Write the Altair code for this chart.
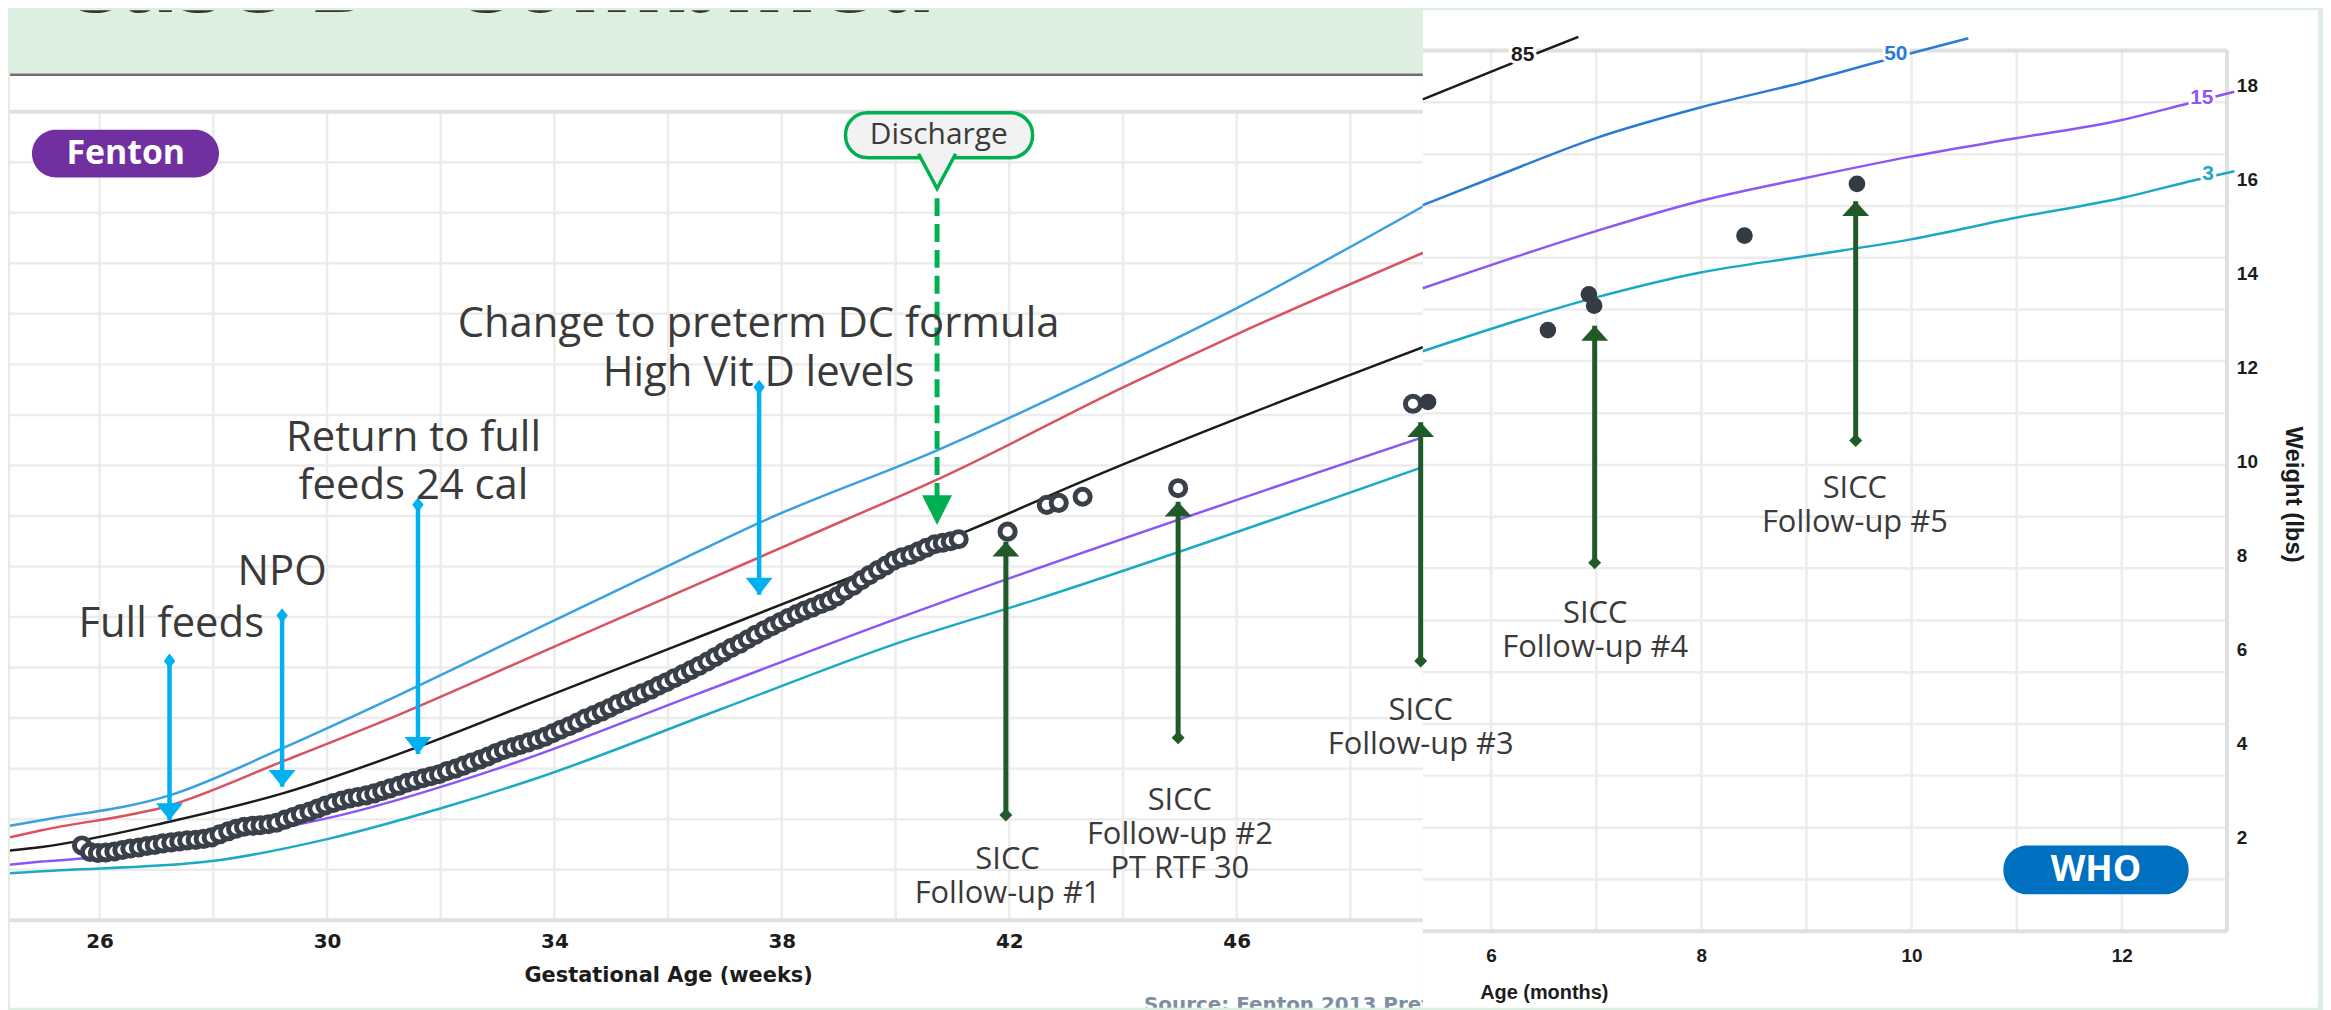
import altair as alt
import pandas as pd

# ---------------------------------------------------------------------------
# LEFT PANEL - Fenton preterm chart: x = gestational age (weeks),
# y = weight in chart grid units (one unit per horizontal grid line)
# ---------------------------------------------------------------------------
F97_AGE = [24.42, 24.98, 27.23, 29.19, 31.29, 33.97, 36.02, 37.71, 40.73, 44.01, 46.01, 49.28]
F97_WT = [1.87, 1.98, 2.47, 3.39, 4.47, 5.92, 7.02, 7.92, 9.30, 11.01, 12.12, 14.13]
F90_AGE = [24.42, 24.98, 27.23, 29.19, 31.29, 33.97, 36.54, 39.11, 40.73, 44.01, 46.01, 49.28]
F90_WT = [1.64, 1.78, 2.27, 3.13, 4.08, 5.40, 6.66, 7.92, 8.72, 10.55, 11.60, 13.21]
F50_AGE = [24.42, 24.98, 27.23, 29.19, 31.58, 33.74, 36.19, 38.88, 41.30, 43.34, 49.28]
F50_WT = [1.38, 1.45, 1.95, 2.50, 3.42, 4.37, 5.45, 6.64, 7.72, 8.71, 11.34]
F10_AGE = [24.42, 24.98, 25.69, 27.96, 30.24, 33.16, 36.54, 40.05, 40.96, 49.28]
F10_WT = [1.10, 1.16, 1.22, 1.58, 2.08, 3.06, 4.49, 5.98, 6.35, 9.56]
F3_AGE = [24.42, 24.98, 27.90, 30.06, 31.99, 33.74, 36.89, 40.05, 42.48, 49.28]
F3_WT = [0.93, 0.97, 1.16, 1.62, 2.21, 2.83, 4.16, 5.49, 6.35, 8.97]

INF_AGE = [25.69, 25.83, 25.97, 26.11, 26.26, 26.40, 26.54, 26.69, 26.83, 26.97,
           27.11, 27.26, 27.40, 27.54, 27.69, 27.83, 27.97, 28.11, 28.26, 28.40,
           28.54, 28.69, 28.83, 28.97, 29.11, 29.26, 29.40, 29.54, 29.69, 29.83,
           29.97, 30.11, 30.26, 30.40, 30.54, 30.69, 30.83, 30.97, 31.11, 31.26,
           31.40, 31.54, 31.69, 31.83, 31.97, 32.11, 32.26, 32.40, 32.54, 32.69,
           32.83, 32.97, 33.11, 33.26, 33.40, 33.54, 33.69, 33.83, 33.97, 34.11,
           34.26, 34.40, 34.54, 34.69, 34.83, 34.97, 35.11, 35.26, 35.40, 35.54,
           35.69, 35.83, 35.97, 36.11, 36.26, 36.40, 36.54, 36.69, 36.83, 36.97,
           37.11, 37.26, 37.40, 37.54, 37.69, 37.83, 37.97, 38.11, 38.26, 38.40,
           38.54, 38.69, 38.83, 38.97, 39.11, 39.26, 39.40, 39.54, 39.69, 39.83,
           39.97, 40.11, 40.26, 40.40, 40.54, 40.69, 40.83, 40.97, 41.11,
           41.97, 42.66, 42.87, 43.29, 44.97, 49.10]
INF_WT = [1.48, 1.35, 1.33, 1.34, 1.36, 1.39, 1.42, 1.44, 1.47, 1.49,
          1.52, 1.54, 1.56, 1.58, 1.59, 1.61, 1.64, 1.70, 1.76, 1.81,
          1.85, 1.87, 1.88, 1.90, 1.93, 1.99, 2.04, 2.10, 2.15, 2.21,
          2.27, 2.32, 2.37, 2.41, 2.44, 2.47, 2.51, 2.56, 2.61, 2.66,
          2.72, 2.76, 2.81, 2.85, 2.89, 2.95, 3.00, 3.06, 3.12, 3.18,
          3.24, 3.31, 3.37, 3.42, 3.47, 3.52, 3.57, 3.63, 3.70, 3.77,
          3.84, 3.91, 3.99, 4.06, 4.13, 4.20, 4.28, 4.35, 4.42, 4.49,
          4.56, 4.64, 4.71, 4.79, 4.87, 4.95, 5.03, 5.12, 5.21, 5.30,
          5.39, 5.47, 5.56, 5.65, 5.74, 5.82, 5.90, 5.98, 6.06, 6.13,
          6.19, 6.26, 6.32, 6.41, 6.52, 6.62, 6.73, 6.83, 6.93, 7.02,
          7.12, 7.18, 7.23, 7.30, 7.37, 7.44, 7.47, 7.50, 7.54,
          7.69, 8.22, 8.26, 8.38, 8.55, 10.22]

BLUE_AGE = [27.23, 29.21, 31.60, 37.60]
BLUE_TOP = [5.13, 6.03, 8.22, 10.55]
BLUE_TIP = [1.98, 2.64, 3.29, 6.44]
BLUE_TEXT = ["Full feeds", "NPO", "Return to full\nfeeds 24 cal",
             "Change to preterm DC formula\nHigh Vit D levels"]
BLUE_TEXT_AGE = [27.26, 29.21, 31.52, 37.59]
BLUE_TEXT_WT = [5.87, 6.90, 9.55, 11.80]

GL_AGE = [41.94, 44.97]
GL_TIP = [7.49, 8.28]
GL_BASE = [2.08, 3.61]
GL_TEXT = ["SICC\nFollow-up #1", "SICC\nFollow-up #2\nPT RTF 30"]
GL_TEXT_AGE = [41.97, 45.00]
GL_TEXT_WT = [1.19, 2.36]

DIS_AGE = [40.73]
DIS_LINE_TOP = [14.29]
DIS_LINE_BOT = [8.37]
DIS_TIP = [7.82]
DIS_POINTER = [14.48]
DIS_BOX_AGE = [39.12, 42.41]
DIS_BOX_WT = [15.09, 15.98]
DIS_TEXT_AGE = [40.76]
DIS_TEXT_WT = [15.54]

L_VGRID = [26, 28, 30, 32, 34, 36, 38, 40, 42, 44, 46, 48]
L_HGRID = [0, 1, 2, 3, 4, 5, 6, 7, 8, 9, 10, 11, 12, 13, 14, 15, 16]
L_TICKS = [26, 30, 34, 38, 42, 46]

# ---------------------------------------------------------------------------
# RIGHT PANEL - WHO chart: x = age (months), y = weight (lbs)
# ---------------------------------------------------------------------------
W85_AGE = [5.35, 6.19, 6.83]
W85_WT = [17.70, 18.46, 19.03]
W50_AGE = [5.35, 6.00, 6.99, 7.98, 8.98, 9.74, 10.54]
W50_WT = [15.45, 16.02, 16.87, 17.52, 18.07, 18.53, 19.00]
W15_AGE = [5.35, 6.99, 7.98, 8.98, 9.99, 10.99, 12.00, 12.61, 13.07]
W15_WT = [13.68, 14.89, 15.53, 16.02, 16.48, 16.87, 17.26, 17.60, 17.86]
W3_AGE = [5.35, 6.99, 7.98, 8.98, 9.99, 10.99, 12.00, 12.71, 13.07]
W3_WT = [12.34, 13.48, 14.01, 14.36, 14.72, 15.18, 15.60, 15.99, 16.17]
PCT_LABEL = ["85", "50", "15", "3"]
PCT_LABEL_AGE = [6.30, 9.85, 12.76, 12.82]
PCT_LABEL_WT = [18.64, 18.67, 17.72, 16.10]

WHO_AGE = [5.40, 6.54, 6.93, 6.98, 8.41, 9.48]
WHO_WT = [11.26, 12.79, 13.55, 13.31, 14.80, 15.90]

GR_AGE = [5.33, 6.985, 9.468]
GR_TIP = [10.83, 12.88, 15.53]
GR_BASE = [5.75, 7.84, 10.44]
GR_TEXT = ["SICC\nFollow-up #3", "SICC\nFollow-up #4", "SICC\nFollow-up #5"]
GR_TEXT_AGE = [5.33, 6.99, 9.46]
GR_TEXT_WT = [4.69, 6.75, 9.41]

R_VGRID = [6, 7, 8, 9, 10, 11, 12, 13]
R_HGRID = [0, 1.10, 2.20, 3.31, 4.41, 5.51, 6.61, 7.72, 8.82, 9.92, 11.02,
           12.13, 13.23, 14.33, 15.43, 16.53, 17.64, 18.74]
R_XTICKS = [6, 8, 10, 12]
R_YTICKS = [2, 4, 6, 8, 10, 12, 14, 16, 18]

# ---------------------------------------------------------------------------
GREEN_BG = "#dcefe0"
GRID = "#ececec"
BORDER = "#e0e0e0"
ANN = "#3a3a3a"
BLUE_ARROW = "#00b0f0"
DARK_GREEN = "#1f5a28"
DIS_GREEN = "#00b050"
DOT = "#3a404a"

L_AMIN, L_AMAX = 24.424, 49.275
L_WMIN, L_WMAX = -1.734, 18.010
R_AMIN, R_AMAX = 5.351, 13.866
R_WMIN, R_WMAX = -1.631, 19.597

LXS = alt.Scale(domain=[L_AMIN, L_AMAX], nice=False, zero=False)
LYS = alt.Scale(domain=[L_WMIN, L_WMAX], nice=False, zero=False)
RXS = alt.Scale(domain=[R_AMIN, R_AMAX], nice=False, zero=False)
RYS = alt.Scale(domain=[R_WMIN, R_WMAX], nice=False, zero=False)

L_XAXIS = alt.Axis(values=L_TICKS, offset=-88, grid=False, ticks=False, tickSize=0,
                   domain=False, labelFont="DejaVu Sans", labelFontWeight="bold",
                   labelFontSize=20, labelColor="#1c1c1c", labelPadding=21,
                   labelBaseline="middle", labelFlush=False, labelOverlap=False,
                   title="Gestational Age (weeks)", titleFont="DejaVu Sans",
                   titleFontWeight="bold", titleFontSize=21, titleColor="#1c1c1c",
                   titleX=661, titleY=56, titleAlign="center", titleBaseline="middle")
R_XAXIS = alt.Axis(values=R_XTICKS, offset=-77, grid=False, ticks=False, tickSize=0,
                   domain=False, labelFont="Liberation Sans", labelFontWeight="bold",
                   labelFontSize=19, labelColor="#1c1c1c", labelPadding=24,
                   labelBaseline="middle", labelFlush=False, labelOverlap=False,
                   title="Age (months)", titleFont="Liberation Sans",
                   titleFontWeight="bold", titleFontSize=20, titleColor="#1c1c1c",
                   titleX=57, titleY=62, titleAlign="left", titleBaseline="middle")
R_YAXIS = alt.Axis(orient="right", values=R_YTICKS, offset=-82, grid=False, ticks=False,
                   tickSize=0, domain=False, labelFont="Liberation Sans",
                   labelFontWeight="bold", labelFontSize=19, labelColor="#1c1c1c",
                   labelPadding=0, labelAlign="left", labelBaseline="middle",
                   labelFlush=False, labelOverlap=False,
                   title="Weight (lbs)", titleFont="Liberation Sans", titleFontWeight="bold",
                   titleFontSize=24, titleColor="#1c1c1c", titleAngle=90, titleX=56,
                   titleY=486, titleAlign="center", titleBaseline="middle")


def lx(f):
    return alt.X(f, type="quantitative", scale=LXS, axis=L_XAXIS)


def ly(f):
    return alt.Y(f, type="quantitative", scale=LYS, axis=None)


def rx(f):
    return alt.X(f, type="quantitative", scale=RXS, axis=R_XAXIS)


def ry(f):
    return alt.Y(f, type="quantitative", scale=RYS, axis=R_YAXIS)


def frame(**cols):
    return pd.DataFrame(cols)


HEAD_DOWN = "M-1,-1.26L1,-1.26L0,0Z"
HEAD_UP = "M-1,1.1L1,1.1L0,0Z"
DIAMOND_TALL = "M0,-1.3L1,0L0,1.3L-1,0Z"
DIAMOND = "M0,-1L1,0L0,1L-1,0Z"

# ============================ LEFT CHART ===================================
L = []
L.append(alt.Chart(frame(a0=[L_AMIN], a1=[L_AMAX], w0=[16.749], w1=[L_WMAX]))
         .mark_rect(color=GREEN_BG).encode(x=lx("a0"), x2="a1", y=ly("w0"), y2="w1"))
L.append(alt.Chart(frame(a0=[L_AMIN], a1=[L_AMAX], w=[16.73]))
         .mark_rule(color="#707070", strokeWidth=2.5).encode(x=lx("a0"), x2="a1", y=ly("w")))
L.append(alt.Chart(frame(w=L_HGRID, a0=[L_AMIN] * len(L_HGRID), a1=[L_AMAX] * len(L_HGRID)))
         .mark_rule(color=GRID, strokeWidth=2.5).encode(x=lx("a0"), x2="a1", y=ly("w")))
L.append(alt.Chart(frame(a=L_VGRID, w0=[0] * len(L_VGRID), w1=[16] * len(L_VGRID)))
         .mark_rule(color=GRID, strokeWidth=2.5).encode(x=lx("a"), y=ly("w0"), y2="w1"))
L.append(alt.Chart(frame(w=[0, 16], a0=[L_AMIN] * 2, a1=[L_AMAX] * 2))
         .mark_rule(color=BORDER, strokeWidth=4).encode(x=lx("a0"), x2="a1", y=ly("w")))

FENTON_PCTS = ["97", "90", "50", "10", "3"]
FENTON_COLORS = ["#3ba0e0", "#d9535f", "#1b1b1b", "#8b55f7", "#1aabc3"]
for name, ages, wts, col in zip(FENTON_PCTS,
                                [F97_AGE, F90_AGE, F50_AGE, F10_AGE, F3_AGE],
                                [F97_WT, F90_WT, F50_WT, F10_WT, F3_WT], FENTON_COLORS):
    L.append(alt.Chart(frame(age=ages, wt=wts))
             .mark_line(strokeWidth=2.5, interpolate="monotone", clip=True, color=col)
             .encode(x=lx("age"), y=ly("wt")))
L.append(alt.Chart(frame(age=INF_AGE, wt=INF_WT))
         .mark_point(shape="circle", size=230, filled=False, fill="white", fillOpacity=1,
                     stroke=DOT, strokeWidth=5, opacity=1)
         .encode(x=lx("age"), y=ly("wt")))

# blue arrows
bdf = frame(a=BLUE_AGE, top=BLUE_TOP, tip=BLUE_TIP)
L.append(alt.Chart(bdf).mark_rule(color=BLUE_ARROW, strokeWidth=4.5)
         .encode(x=lx("a"), y=ly("top"), y2="tip"))
L.append(alt.Chart(bdf).mark_point(shape=HEAD_DOWN, size=729, filled=True, color=BLUE_ARROW,
                                   opacity=1).encode(x=lx("a"), y=ly("tip")))
L.append(alt.Chart(bdf).mark_point(shape=DIAMOND_TALL, size=130, filled=True, color=BLUE_ARROW,
                                   opacity=1).encode(x=lx("a"), y=ly("top")))
# dark green arrows
gdf = frame(a=GL_AGE, tip=GL_TIP, base=GL_BASE)
L.append(alt.Chart(gdf).mark_rule(color=DARK_GREEN, strokeWidth=5)
         .encode(x=lx("a"), y=ly("base"), y2="tip"))
L.append(alt.Chart(gdf).mark_point(shape=HEAD_UP, size=729, filled=True, color=DARK_GREEN,
                                   opacity=1).encode(x=lx("a"), y=ly("tip")))
L.append(alt.Chart(gdf).mark_point(shape=DIAMOND, size=170, filled=True, color=DARK_GREEN,
                                   opacity=1).encode(x=lx("a"), y=ly("base")))
# discharge callout
L.append(alt.Chart(frame(a=DIS_AGE, w0=DIS_LINE_TOP, w1=DIS_LINE_BOT))
         .mark_rule(color=DIS_GREEN, strokeWidth=5, strokeDash=[18, 8])
         .encode(x=lx("a"), y=ly("w0"), y2="w1"))
L.append(alt.Chart(frame(a=DIS_AGE, w=DIS_TIP))
         .mark_point(shape="M-1,-2L1,-2L0,0Z", size=900, filled=True, color=DIS_GREEN, opacity=1)
         .encode(x=lx("a"), y=ly("w")))
L.append(alt.Chart(frame(a0=[DIS_BOX_AGE[0]], a1=[DIS_BOX_AGE[1]], w0=[DIS_BOX_WT[0]],
                         w1=[DIS_BOX_WT[1]]))
         .mark_rect(fill="#f2f2f2", stroke=DIS_GREEN, strokeWidth=3.5, cornerRadius=22)
         .encode(x=lx("a0"), x2="a1", y=ly("w0"), y2="w1"))
L.append(alt.Chart(frame(a=DIS_AGE, w=DIS_POINTER))
         .mark_point(shape="M-1.13,-2.12L0,0L1.13,-2.12", size=1089, filled=False,
                     fill="#f2f2f2", fillOpacity=1, stroke=DIS_GREEN, strokeWidth=3.5,
                     opacity=1)
         .encode(x=lx("a"), y=ly("w")))
L.append(alt.Chart(frame(a=DIS_TEXT_AGE, w=DIS_TEXT_WT, t=["Discharge"]))
         .mark_text(font="Open Sans", fontSize=30, color=ANN, align="center", baseline="middle")
         .encode(x=lx("a"), y=ly("w"), text="t:N"))
# annotation texts
L.append(alt.Chart(frame(a=BLUE_TEXT_AGE, w=BLUE_TEXT_WT, t=BLUE_TEXT))
         .mark_text(font="Open Sans", fontSize=42, lineHeight=49, lineBreak="\n", color=ANN,
                    align="center", baseline="middle")
         .encode(x=lx("a"), y=ly("w"), text="t:N"))
L.append(alt.Chart(frame(a=GL_TEXT_AGE, w=GL_TEXT_WT, t=GL_TEXT))
         .mark_text(font="Open Sans", fontSize=31, lineHeight=34, lineBreak="\n", color=ANN,
                    align="center", baseline="middle")
         .encode(x=lx("a"), y=ly("w"), text="t:N"))
# Fenton badge
L.append(alt.Chart(frame(a0=[24.81], a1=[28.10], w0=[14.70], w1=[15.645]))
         .mark_rect(color="#7030a0", cornerRadius=24)
         .encode(x=lx("a0"), x2="a1", y=ly("w0"), y2="w1"))
L.append(alt.Chart(frame(a=[26.46], w=[15.17], t=["Fenton"]))
         .mark_text(font="Open Sans", fontWeight="bold", fontSize=34, color="white",
                    align="center", baseline="middle")
         .encode(x=lx("a"), y=ly("w"), text="t:N"))
# slide title (cut by the top edge) and source line (cut by the bottom edge)
L.append(alt.Chart(frame(a=[25.28], w=[17.97], t=["Case B - Combined"]))
         .mark_text(font="Open Sans", fontWeight=800, fontSize=94, color="#333333",
                    align="left", baseline="alphabetic", clip=True)
         .encode(x=lx("a"), y=ly("w"), text="t:N"))
L.append(alt.Chart(frame(a=[44.37], w=[-1.80], t=["Source: Fenton 2013 Preterm Growth Chart"]))
         .mark_text(font="DejaVu Sans", fontWeight="bold", fontSize=20, color="#7d8fa3",
                    align="left", baseline="alphabetic", clip=True)
         .encode(x=lx("a"), y=ly("w"), text="t:N"))

left = alt.layer(*L).properties(width=1419, height=1002)

# ============================ RIGHT CHART ==================================
R = []
R.append(alt.Chart(frame(w=R_HGRID, a0=[R_AMIN] * len(R_HGRID), a1=[13] * len(R_HGRID)))
         .mark_rule(color=GRID, strokeWidth=2.5).encode(x=rx("a0"), x2="a1", y=ry("w")))
R.append(alt.Chart(frame(a=R_VGRID, w0=[0] * len(R_VGRID), w1=[18.74] * len(R_VGRID)))
         .mark_rule(color=GRID, strokeWidth=2.5).encode(x=rx("a"), y=ry("w0"), y2="w1"))
R.append(alt.Chart(frame(w=[0, 18.74], a0=[R_AMIN] * 2, a1=[13] * 2))
         .mark_rule(color=BORDER, strokeWidth=4).encode(x=rx("a0"), x2="a1", y=ry("w")))
R.append(alt.Chart(frame(a=[13], w0=[0], w1=[18.74]))
         .mark_rule(color=BORDER, strokeWidth=4).encode(x=rx("a"), y=ry("w0"), y2="w1"))

WHO_PCTS = ["85", "50", "15", "3"]
WHO_COLORS = ["#1b1b1b", "#2b7bd6", "#8f55f5", "#1aa9c2"]
for name, ages, wts, lab_a, lab_w, col in zip(WHO_PCTS, [W85_AGE, W50_AGE, W15_AGE, W3_AGE],
                                               [W85_WT, W50_WT, W15_WT, W3_WT],
                                               PCT_LABEL_AGE, PCT_LABEL_WT, WHO_COLORS):
    R.append(alt.Chart(frame(age=ages, wt=wts))
             .mark_line(strokeWidth=2.5, interpolate="monotone", color=col)
             .encode(x=rx("age"), y=ry("wt")))
    lab = frame(age=[lab_a], wt=[lab_w], t=[name])
    R.append(alt.Chart(lab).mark_text(font="Liberation Sans", fontWeight="bold", fontSize=21,
                                      stroke="white", strokeWidth=6, color="white",
                                      align="center", baseline="middle")
             .encode(x=rx("age"), y=ry("wt"), text="t:N"))
    R.append(alt.Chart(lab).mark_text(font="Liberation Sans", fontWeight="bold", fontSize=21,
                                      color=col, align="center", baseline="middle")
             .encode(x=rx("age"), y=ry("wt"), text="t:N"))

R.append(alt.Chart(frame(age=WHO_AGE, wt=WHO_WT))
         .mark_point(shape="circle", size=280, filled=True, color="#353b45", opacity=1)
         .encode(x=rx("age"), y=ry("wt")))
grd = frame(a=GR_AGE, tip=GR_TIP, base=GR_BASE)
R.append(alt.Chart(grd).mark_rule(color=DARK_GREEN, strokeWidth=5)
         .encode(x=rx("a"), y=ry("base"), y2="tip"))
R.append(alt.Chart(grd).mark_point(shape=HEAD_UP, size=729, filled=True, color=DARK_GREEN,
                                   opacity=1).encode(x=rx("a"), y=ry("tip")))
R.append(alt.Chart(grd).mark_point(shape=DIAMOND, size=170, filled=True, color=DARK_GREEN,
                                   opacity=1).encode(x=rx("a"), y=ry("base")))
R.append(alt.Chart(frame(a=GR_TEXT_AGE, w=GR_TEXT_WT, t=GR_TEXT))
         .mark_text(font="Open Sans", fontSize=31, lineHeight=34, lineBreak="\n", color=ANN,
                    align="center", baseline="middle")
         .encode(x=rx("a"), y=ry("w"), text="t:N"))
R.append(alt.Chart(frame(a0=[10.873], a1=[12.635], w0=[0.784], w1=[1.822]))
         .mark_rect(color="#0070c0", cornerRadius=24)
         .encode(x=rx("a0"), x2="a1", y=ry("w0"), y2="w1"))
R.append(alt.Chart(frame(a=[11.754], w=[1.30], t=["WHO"]))
         .mark_text(font="Open Sans", fontWeight="bold", fontSize=36, color="white",
                    align="center", baseline="middle")
         .encode(x=rx("a"), y=ry("w"), text="t:N"))

right = alt.layer(*R).properties(width=899, height=1002)

chart = (alt.hconcat(left, right, spacing=0, bounds="flush")
         .properties(padding={"left": 0, "top": 0, "right": 5, "bottom": 0})
         .configure(background=GREEN_BG)
         .configure_view(stroke=None, fill="white"))

chart.save("out.html", embed_options={"renderer": "svg", "actions": False})
